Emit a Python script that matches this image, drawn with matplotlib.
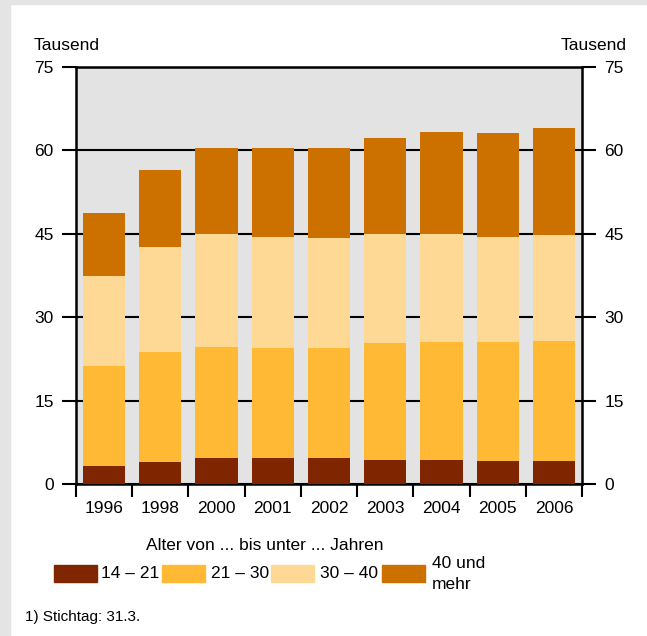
import numpy as np
import matplotlib.pyplot as plt
from matplotlib.patches import Rectangle

years = ["1996", "1998", "2000", "2001", "2002", "2003", "2004", "2005", "2006"]
# cumulative tops (Tausend)
age_14_21 = [3.3, 4.0, 4.7, 4.6, 4.6, 4.4, 4.4, 4.2, 4.2]
top_21_30 = [21.3, 23.8, 24.7, 24.5, 24.4, 25.4, 25.6, 25.6, 25.8]
top_30_40 = [37.5, 42.7, 45.0, 44.4, 44.2, 45.0, 45.0, 44.5, 44.7]
total = [48.7, 56.4, 60.5, 60.4, 60.4, 62.2, 63.3, 63.1, 64.0]

age_21_30 = np.array(top_21_30) - np.array(age_14_21)
age_30_40 = np.array(top_30_40) - np.array(top_21_30)
age_40_plus = np.array(total) - np.array(top_30_40)

labels = ["14 – 21", "21 – 30", "30 – 40", "40 und\nmehr"]
colors = ["#7f2600", "#ffb935", "#fdd995", "#cc7000"]

plt.rcParams['font.family'] = ['Liberation Sans', 'DejaVu Sans']
plt.rcParams['font.size'] = 12.5

fig = plt.figure(figsize=(6.47, 6.36), dpi=100, facecolor="white")
# grey frame at left and top
fig.patches.append(Rectangle((0, 0), 10 / 647, 1, transform=fig.transFigure, color="#e4e4e4", zorder=0))
fig.patches.append(Rectangle((0, 1 - 4 / 636), 1, 4 / 636, transform=fig.transFigure, color="#e4e4e4", zorder=0))

ax = fig.add_axes([76 / 647, 1 - 484 / 636, (582 - 76) / 647, (484 - 67) / 636])
ax.set_facecolor("#e3e3e3")

x = np.arange(len(years))
bottom = np.zeros(len(years))
for vals, c in zip([age_14_21, age_21_30, age_30_40, age_40_plus], colors):
    ax.bar(x, vals, 0.75, bottom=bottom, color=c, zorder=3)
    bottom += np.array(vals)

ax.set_xlim(-0.5, len(years) - 0.5)
ax.set_ylim(0, 75)
yt = [0, 15, 30, 45, 60, 75]
ax.set_yticks(yt)
ax.set_yticklabels([str(v) for v in yt])
ax.yaxis.grid(True, color="black", linewidth=1.5, zorder=2)
ax.set_axisbelow(True)
ax.tick_params(axis="y", which="both", direction="out", length=10, width=1.5,
               left=True, right=True, labelleft=True, labelright=True, pad=6)

ax.set_xticks(x)
ax.set_xticklabels(years)
ax.set_xticks(np.arange(-0.5, len(years)), minor=True)
ax.tick_params(axis="x", which="major", length=0, pad=12)
ax.tick_params(axis="x", which="minor", length=9, width=1.5, direction="out")

for s in ax.spines.values():
    s.set_color("black")
    s.set_linewidth(1.8)

fig.text(34 / 647, 1 - 46 / 636, "Tausend", ha="left", va="center")
fig.text(627 / 647, 1 - 46 / 636, "Tausend", ha="right", va="center")

# legend
fig.text(265 / 647, 1 - 545 / 636, "Alter von ... bis unter ... Jahren", ha="center", va="center")
patch_x = [54, 162, 271, 382]
text_x = [101, 211, 320, 432]
for px, tx, lab, c in zip(patch_x, text_x, labels, colors):
    fig.patches.append(Rectangle((px / 647, 1 - 582 / 636), 43 / 647, 17 / 636,
                                 transform=fig.transFigure, color=c))
    fig.text(tx / 647, 1 - 574 / 636, lab, ha="left", va="center", linespacing=1.55)

fig.text(25 / 647, 1 - 617 / 636, "1) Stichtag: 31.3.", ha="left", va="center", fontsize=11)

fig.savefig("out.png", dpi=100, facecolor="white")
